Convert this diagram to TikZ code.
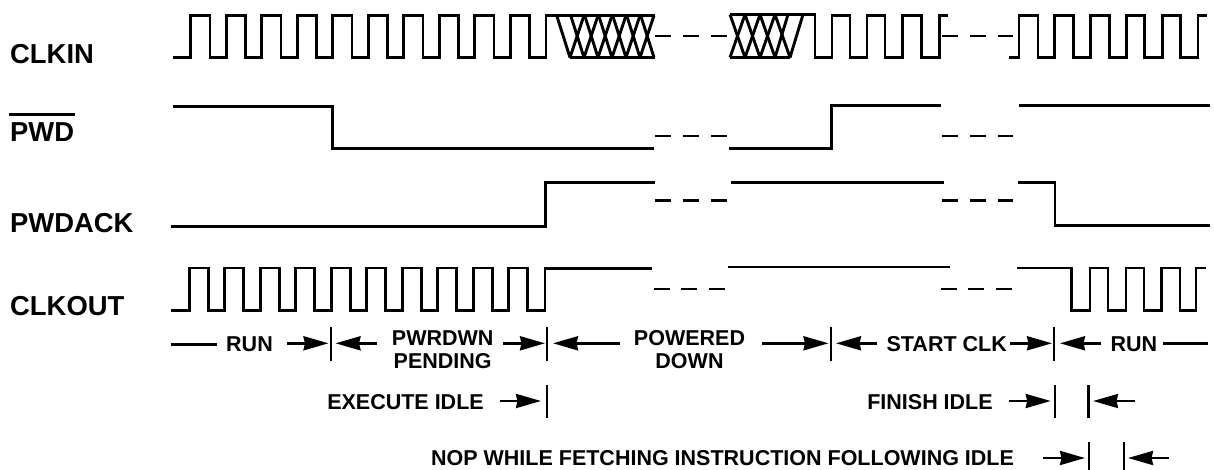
\documentclass[tikz,border=0pt]{standalone}
\usepackage{fontspec}
\setmainfont{Liberation Sans}
\usetikzlibrary{arrows.meta}
\tikzset{
  wave/.style={line width=2.9pt,line join=miter,line cap=butt},
  hatch/.style={line width=2.9pt},
  tickmark/.style={line width=2.7pt},
  dimarrow/.style={line width=2.6pt,-{Stealth[length=25pt,width=14pt,inset=1.5pt]}},
  dimline/.style={line width=2.6pt},
  siglabel/.style={font=\fontsize{27.4}{27.4}\selectfont\bfseries,anchor=west,inner sep=0pt},
  dimlabel/.style={font=\fontsize{21.5}{23.5}\selectfont\bfseries,align=center,inner sep=0pt},
}
\begin{document}
\begin{tikzpicture}[x=1pt,y=-1pt]
\useasboundingbox (0,0) rectangle (1214,470);
% signal labels
\node[siglabel] (clkin) at (10,54) {CLKIN};
\node[siglabel] (pwd) at (10,131.7) {PWD};
\node[siglabel] (pwdack) at (10,222.7) {PWDACK};
\node[siglabel] (clkout) at (10,306) {CLKOUT};
\draw[line width=2.7pt] (9,114.7) -- (75,114.7);
% CLKIN
\draw[wave] (173,57.5) foreach \k in {0,...,9} {
  -- ({190.7+35.5*\k},57.5) -- ({190.7+35.5*\k},15.5) -- ({210+35.5*\k},15.5) -- ({210+35.5*\k},57.5)}
  -- (546,57.5) -- (546,15.5) -- (655,15.5);
\draw[wave] (570,57.5) -- (655,57.5);
\foreach \k in {0,...,6} \draw[hatch] ({556.7+14*\k},15.5) -- ({570+14*\k},57.5);
\foreach \k in {0,...,5} \draw[hatch] ({584+14*\k},15.5) -- ({570+14*\k},57.5);
\foreach \a/\b in {655/671,683/699,711/727} \draw[wave] (\a,36) -- (\b,36);
\draw[line width=3.4pt] (730,14.5) -- (816,14.5);
\draw[wave] (730,57.5) -- (790,57.5);
\foreach \a/\b in {730/745,745/760,760/775,775/790} \draw[hatch] (\a,14.5) -- (\b,57.5);
\foreach \a/\b in {745/730,760/745,775/760,788/775,803/790} \draw[hatch] (\a,14.5) -- (\b,57.5);
\draw[wave] (815,14.5) -- (815,57.5) -- (832,57.5) -- (832,15.5) -- (850,15.5) -- (850,57.5)
  -- (867,57.5) -- (867,15.5) -- (885,15.5) -- (885,57.5) -- (902.7,57.5) -- (902.7,15.5)
  -- (921.7,15.5) -- (921.7,57.5) -- (939.3,57.5) -- (939.3,15.5) -- (948,15.5);
\foreach \a/\b in {942/958,970/986,998/1013} \draw[wave] (\a,36) -- (\b,36);
\draw[wave] (1009,57.5) foreach \k in {0,...,4} {
  -- ({1019+35.8*\k},57.5) -- ({1019+35.8*\k},15.5) -- ({1038+35.6*\k},15.5) -- ({1038+35.6*\k},57.5)}
  -- (1198,57.5) -- (1198,15.5) -- (1207,15.5);
% PWD
\draw[wave] (173,106.3) -- (332.5,106.3) -- (332.5,148.3) -- (654,148.3);
\foreach \a/\b in {655/671,683/699,711/727,942/958,970/986,998/1013} \draw[wave] (\a,136) -- (\b,136);
\draw[wave] (729,148.3) -- (831.7,148.3) -- (831.7,105.3) -- (941,105.3);
\draw[wave] (1019,105.3) -- (1210,105.3);
% PWDACK
\draw[wave] (171,226.7) -- (545.7,226.7) -- (545.7,182.3) -- (655,182.3);
\foreach \a/\b in {655/671,683/699,711/727,942/958,970/986,998/1013} \draw[wave] (\a,200.7) -- (\b,200.7);
\draw[wave] (731,182.3) -- (944,182.3);
\draw[wave] (1017.7,182.3) -- (1055,182.3) -- (1055,225.7) -- (1210,225.7);
% CLKOUT
\draw[wave] (171,310.7) foreach \k in {0,...,9} {
  -- ({189.3+35.5*\k},310.7) -- ({189.3+35.5*\k},268) -- ({208.3+35.5*\k},268) -- ({208.3+35.5*\k},310.7)}
  -- (545,310.7) -- (545,268.5) -- (652,268.5);
\foreach \a/\b in {654/670,681/697,709/725,941/957,968/984,996/1012} \draw[wave] (\a,289) -- (\b,289);
\draw[wave] (728,267) -- (950,267);
\draw[wave] (1017,268) -- (1071.7,268) -- (1071.7,310.7) -- (1090,310.7) -- (1090,268) -- (1108,268)
  -- (1108,310.7) -- (1126,310.7) -- (1126,268) -- (1144,268) -- (1144,310.7) -- (1161.7,310.7)
  -- (1161.7,268) -- (1180,268) -- (1180,310.7) -- (1196,310.7) -- (1196,268) -- (1206,268);
% phase labels
\node[dimlabel] (run1) at (249.5,344.3) {RUN};
\node[dimlabel] (pending) at (442.7,349.5) {PWRDWN\\PENDING};
\node[dimlabel] (powered) at (689.5,349.5) {POWERED\\DOWN};
\node[dimlabel] (startclk) at (946.7,344.3) {START CLK};
\node[dimlabel] (run2) at (1133.8,344.3) {RUN};
\node[dimlabel] (execidle) at (405.5,401.7) {EXECUTE IDLE};
\node[dimlabel] (finidle) at (930,401.7) {FINISH IDLE};
\node[dimlabel] (nop) at (722.5,458) {NOP WHILE FETCHING INSTRUCTION FOLLOWING IDLE};
% tick marks
\foreach \n/\x in {a/331,b/547,c/831,d/1054} {
  \coordinate (\n t) at (\x,327); \coordinate (\n b) at (\x,361);
  \draw[tickmark] (\n t) -- (\n b);
}
\foreach \n/\x in {e/547,f/1055,g/1088.7} {
  \coordinate (\n t) at (\x,385); \coordinate (\n b) at (\x,418);
  \draw[tickmark] (\n t) -- (\n b);
}
\foreach \n/\x in {h/1089,i/1124} {
  \coordinate (\n t) at (\x,441.7); \coordinate (\n b) at (\x,470);
  \draw[tickmark] (\n t) -- (\n b);
}
% dimension arrows
\foreach \n/\tx/\hx/\y in {
  p1/287/328.5/343.3, p2/377/335.5/343.3, p3/503/545/343.3, p4/620/553/343.3,
  p5/762/828.5/343.3, p6/877/836/343.3, p7/1010/1052/343.3, p8/1100.7/1060/343.3,
  p9/499.5/541/401, p10/1009/1050.7/401, p11/1135/1093/401, p12/1043/1085/458, p13/1169/1128/458} {
  \coordinate (\n tail) at (\tx,\y);
  \coordinate (\n tip) at (\hx,\y);
  \draw[dimarrow] (\n tail) -- (\n tip);
}
\coordinate (r1a) at (171,344.3); \coordinate (r1b) at (217,344.3);
\coordinate (r2a) at (1163,343.3); \coordinate (r2b) at (1208,343.3);
\draw[dimline] (r1a) -- (r1b);
\draw[dimline] (r2a) -- (r2b);
\end{tikzpicture}
\end{document}
